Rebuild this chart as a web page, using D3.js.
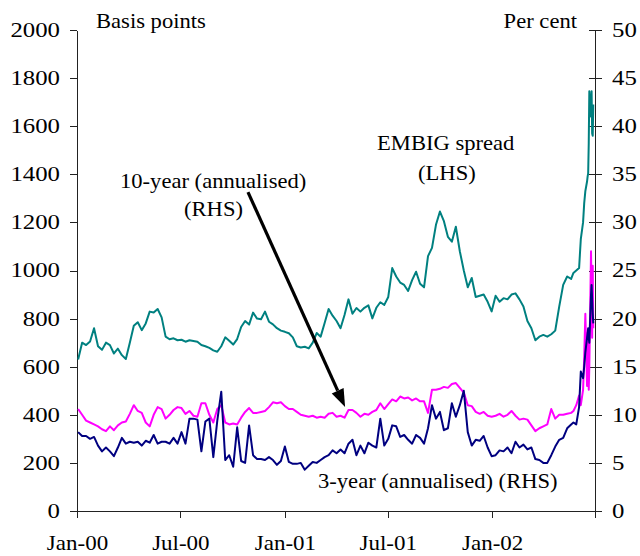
<!DOCTYPE html>
<html>
<head>
<meta charset="utf-8">
<script src="https://cdn.jsdelivr.net/npm/d3@7"></script>
<style>
body { margin: 0; background: #fff; }
svg text { font-family: "Liberation Serif", "Times New Roman", serif; fill: #000; }
</style>
</head>
<body>
<svg id="chart" width="640" height="556"></svg>
<script>
var width = 640;
var height = 556;
var margin = {top: 30, right: 45, bottom: 45, left: 77};
var w = width - margin.left - margin.right;
var h = height - margin.top - margin.bottom;

// weekly observations (Mondays) Jan 2000 - May 2002, then denser points for the June 2002 blow-out
var parseDate = d3.timeParse("%Y-%m-%d");
var weeks = d3.timeMonday.range(new Date(2000, 0, 3), new Date(2002, 4, 21));
var tailDates = ["2002-05-24", "2002-05-29", "2002-06-03", "2002-06-06", "2002-06-10", "2002-06-12",
    "2002-06-14", "2002-06-17", "2002-06-18", "2002-06-19", "2002-06-20", "2002-06-21",
    "2002-06-24", "2002-06-25", "2002-06-26", "2002-06-27", "2002-06-28"];
var dates = weeks.concat(tailDates.map(parseDate));

// EMBIG spread, basis points (LHS)
var embig = [
    630, 700, 690, 705, 760, 685, 670, 700, 690, 655,
    675, 648, 632, 700, 770, 785, 752, 780, 829, 825,
    840, 805, 725, 714, 718, 710, 712, 704, 710, 707,
    704, 690, 685, 678, 668, 662, 685, 722, 708, 692,
    715, 765, 790, 775, 825, 800, 797, 829, 787, 776,
    760, 750, 745, 739, 722, 685, 680, 683, 676, 700,
    740, 725, 782, 840, 812, 790, 760, 815, 880, 820,
    844, 829, 845, 855, 801, 845, 868, 857, 890, 1010,
    975, 950, 940, 915, 960, 995, 945, 930, 1060, 1094,
    1190, 1245, 1205, 1140, 1120, 1182, 1080, 1000, 930, 969,
    890, 895, 900, 870, 830, 895, 870, 885, 880, 900,
    905, 880, 850, 790, 760, 710, 725, 732, 725, 735,
    750, 850, 940, 975, 965,
    990, 1000, 1010, 1130, 1200, 1280, 1330, 1370, 1390, 1405, 1530, 1745, 1640, 1745, 1570, 1560, 1690
];

// 10-year yield (annualised), per cent (RHS)
var tenYear = [
    10.6, 10.0, 9.4, 9.2, 9.0, 8.8, 8.5, 8.3, 8.8, 8.4,
    8.9, 9.2, 9.3, 10.1, 11.0, 10.4, 10.2, 9.2, 8.8, 10.0,
    10.8, 10.6, 9.6, 10.0, 10.5, 10.8, 10.7, 10.1, 10.4, 9.9,
    9.8, 11.2, 11.2, 10.0, 9.2, 10.6, 11.0, 9.2, 9.0, 9.1,
    9.0, 9.7, 10.3, 10.7, 10.2, 10.2, 10.3, 10.4, 10.8, 11.3,
    11.2, 11.3, 10.9, 10.6, 10.6, 10.3, 10.0, 9.9, 9.8, 9.9,
    9.7, 9.8, 9.7, 10.1, 10.2, 9.8, 9.9, 9.7, 10.5, 10.5,
    10.2, 9.8, 10.1, 10.0, 10.3, 10.5, 11.2, 10.6, 11.1, 11.6,
    11.4, 11.9, 11.7, 11.8, 11.5, 11.7, 11.4, 11.4, 10.2, 12.6,
    12.6, 12.7, 12.9, 12.8, 13.2, 13.3, 12.8, 12.3, 11.0, 10.9,
    10.3, 10.1, 10.3, 9.9, 9.8, 9.9, 10.1, 9.8, 10.0, 10.4,
    9.9, 9.5, 9.6, 9.5, 8.9, 8.3, 8.6, 8.8, 9.0, 10.6,
    9.6, 10.0, 10.0, 10.1, 10.2,
    10.4, 11.0, 12.0, 11.0, 12.6, 16.0, 20.5, 13.0, 18.5, 18.0, 12.6, 15.0, 27.0, 22.0, 18.0, 25.5, 19.0
];

// 3-year yield (annualised), per cent (RHS)
var threeYear = [
    8.2, 7.8, 7.8, 7.5, 7.7, 6.8, 6.2, 6.6, 6.2, 5.7,
    6.6, 7.6, 7.0, 7.2, 7.1, 7.2, 6.8, 7.3, 7.1, 7.9,
    7.0, 7.2, 7.2, 7.0, 7.6, 7.0, 8.2, 7.0, 9.6, 9.6,
    9.5, 6.2, 9.3, 9.6, 5.6, 9.4, 12.4, 5.3, 5.8, 4.6,
    8.7, 5.2, 5.0, 8.9, 5.8, 5.4, 5.4, 5.3, 5.6, 5.3,
    4.8, 5.2, 6.7, 5.1, 4.9, 4.9, 5.0, 4.3, 4.7, 5.1,
    5.0, 5.3, 5.6, 5.8, 6.3, 6.0, 6.4, 6.0, 7.0, 7.4,
    5.8, 6.8, 6.0, 7.1, 6.8, 6.6, 9.6, 6.8, 7.5, 8.9,
    8.8, 7.7, 7.9, 7.4, 7.0, 7.9, 7.6, 7.0, 8.6, 11.0,
    9.6, 10.3, 8.4, 8.6, 11.2, 9.8, 11.0, 12.5, 8.2, 6.8,
    7.4, 7.3, 7.8, 6.6, 5.7, 5.8, 6.3, 6.2, 6.6, 6.0,
    7.2, 6.6, 6.9, 6.4, 6.6, 5.4, 5.3, 5.0, 5.0, 5.8,
    6.7, 7.4, 7.6, 8.6, 9.0,
    9.2, 9.0, 10.8, 14.5, 13.8, 15.0, 16.5, 18.0, 18.5, 19.0, 18.0, 17.5, 22.5, 23.5, 22.0, 20.5, 19.5
];

var leftTicks = d3.range(0, 2001, 200);
var rightTicks = d3.range(0, 51, 5);
var xTicks = ["2000-01-01", "2000-07-01", "2001-01-01", "2001-07-01", "2002-01-01", "2002-07-01"].map(parseDate);

var svg = d3.select("#chart")
    .append("g")
    .attr("transform", "translate(" + margin.left + "," + margin.top + ")");

var x = d3.scaleTime()
    .domain([parseDate("2000-01-01"), parseDate("2002-07-01")])
    .range([0, w]);
var yL = d3.scaleLinear().domain([0, 2000]).range([h, 0]);
var yR = d3.scaleLinear().domain([0, 50]).range([h, 0]);

var numStretch = 1.24; // the picture's serif digits are wider than Liberation Serif
var txtStretch = 1.13;

// left axis (basis points)
var gl = svg.append("g").attr("class", "axis")
    .call(d3.axisLeft(yL).tickValues(leftTicks).tickFormat(d3.format("d"))
        .tickSizeInner(7).tickSizeOuter(0));
gl.selectAll("text")
    .style("font-size", "20px")
    .attr("x", -17 / numStretch)
    .attr("transform", "scale(" + numStretch + ",1)");

// right axis (per cent), ticks cross the axis line
var gr = svg.append("g").attr("class", "axis")
    .attr("transform", "translate(" + w + ",0)")
    .call(d3.axisRight(yR).tickValues(rightTicks).tickFormat(d3.format("d"))
        .tickSizeInner(7).tickSizeOuter(0));
gr.selectAll(".tick line").attr("x1", -6).attr("x2", 7);
gr.selectAll("text")
    .style("font-size", "20px")
    .attr("x", 17 / numStretch)
    .attr("transform", "scale(" + numStretch + ",1)");

// bottom axis
var gx = svg.append("g").attr("class", "axis")
    .attr("transform", "translate(0," + h + ")")
    .call(d3.axisBottom(x).tickValues(xTicks).tickSizeInner(7).tickSizeOuter(0)
        .tickFormat(function(d, i) { return i === xTicks.length - 1 ? "" : d3.timeFormat("%b-%y")(d); }));
gx.selectAll("text")
    .style("font-size", "20px")
    .attr("y", 39).attr("dy", 0)
    .attr("transform", "scale(1.15,1)");

svg.selectAll(".axis path, .axis line")
    .attr("stroke", "#222")
    .attr("shape-rendering", "crispEdges");

// series lines
function series(values) {
    return dates.map(function(d, i) { return [d, values[i]]; })
        .filter(function(d) { return d[1] != null; });
}
var lineL = d3.line().x(function(d) { return x(d[0]); }).y(function(d) { return yL(d[1]); });
var lineR = d3.line().x(function(d) { return x(d[0]); }).y(function(d) { return yR(d[1]); });

svg.append("path").datum(series(embig))
    .attr("d", lineL).attr("fill", "none").attr("stroke", "#008080").attr("stroke-width", 2)
    .attr("stroke-linejoin", "round");
svg.append("path").datum(series(tenYear))
    .attr("d", lineR).attr("fill", "none").attr("stroke", "#ff00ff").attr("stroke-width", 2)
    .attr("stroke-linejoin", "round");
svg.append("path").datum(series(threeYear))
    .attr("d", lineR).attr("fill", "none").attr("stroke", "#000080").attr("stroke-width", 2)
    .attr("stroke-linejoin", "round");

// text labels (pixel positions relative to the page)
function addText(px, py, str, anchor) {
    d3.select("#chart").append("text")
        .attr("transform", "translate(" + px + "," + py + ") scale(" + txtStretch + ",1)")
        .attr("text-anchor", anchor || "start")
        .style("font-size", "20px")
        .text(str);
}
addText(96, 28, "Basis points");
addText(577, 28, "Per cent", "end");
addText(120, 188, "10-year (annualised)");
addText(184, 216, "(RHS)");
addText(377, 150, "EMBIG spread");
addText(418, 180, "(LHS)");
addText(318, 488, "3-year (annualised) (RHS)");

// arrow pointing at the 10-year line (given in chart units: date, basis points)
var arrowFrom = [parseDate("2000-10-28"), 1326];
var arrowTo = [parseDate("2001-04-17"), 432];
var ax0 = x(arrowFrom[0]), ay0 = yL(arrowFrom[1]);
var ax1 = x(arrowTo[0]), ay1 = yL(arrowTo[1]);
var ang = Math.atan2(ay1 - ay0, ax1 - ax0);
var headLen = 18, headHalf = 6.5;
var bx = ax1 - headLen * Math.cos(ang), by = ay1 - headLen * Math.sin(ang);
svg.append("line")
    .attr("x1", ax0).attr("y1", ay0).attr("x2", bx).attr("y2", by)
    .attr("stroke", "#000").attr("stroke-width", 3.2);
svg.append("polygon")
    .attr("points", [
        [ax1, ay1],
        [bx + headHalf * Math.sin(ang), by - headHalf * Math.cos(ang)],
        [bx - headHalf * Math.sin(ang), by + headHalf * Math.cos(ang)]
    ].map(function(p) { return p.join(","); }).join(" "))
    .attr("fill", "#000");
</script>
</body>
</html>
